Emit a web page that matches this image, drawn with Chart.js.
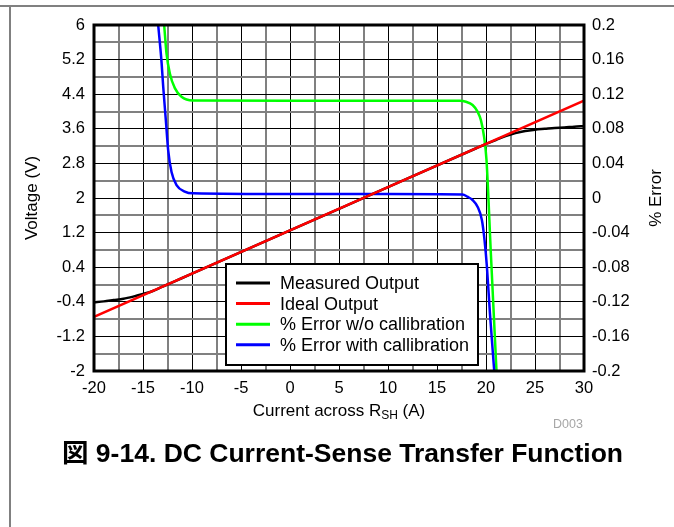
<!DOCTYPE html>
<html>
<head>
<meta charset="utf-8">
<script src="https://cdn.jsdelivr.net/npm/chart.js@4.4.1/dist/chart.umd.min.js"></script>
<style>
    body { margin: 0; background: #fff; }
    #wrap { position: relative; width: 674px; height: 527px; overflow: hidden; }
    #frameTop { position: absolute; left: 0; top: 5px; width: 674px; height: 2px; background: #808080; }
    #frameLeft { position: absolute; left: 9px; top: 5px; width: 2px; height: 522px; background: #808080; }
    #code { position: absolute; left: 553px; top: 417px; font: 12.5px "Liberation Sans", Arial, sans-serif; color: #a6a6a6; }
    #caption { position: absolute; left: 62px; top: 431px; line-height: 30px; white-space: nowrap;
        font: bold 26.5px "Liberation Sans", Arial, "Noto Sans CJK JP", sans-serif; color: #000; }
</style>
</head>
<body>
<div id="wrap">
    <canvas id="myChart" width="674" height="527"></canvas>
    <div id="frameTop"></div>
    <div id="frameLeft"></div>
    <div id="code">D003</div>
    <div id="caption">図 9-14. DC Current-Sense Transfer Function</div>
</div>
<script>
// current across R_SH (A) and readings
const measuredI = [-20, -19, -18, -17, -16, -15, -14, -13, -12, -10, 0, 10, 19, 20, 21, 22, 23, 24, 25, 26, 27, 28, 29, 30];
const measuredV = [-0.41, -0.39, -0.36, -0.33, -0.28, -0.22, -0.15, -0.05, 0.05, 0.25, 1.25, 2.25, 3.15, 3.25, 3.34, 3.43, 3.50, 3.55, 3.58, 3.60, 3.62, 3.63, 3.65, 3.66];

const idealI = [-20, 30];
const idealV = [-0.75, 4.25];

const errNoCalI = [-12.84, -12.6, -12.26, -11.75, -11.07, -9.9, 0, 10, 17.3, 17.95, 18.63, 19.14, 19.48, 19.8, 20.05, 20.5, 21.07];
const errNoCal = [0.2, 0.167, 0.144, 0.127, 0.117, 0.1128, 0.1125, 0.1125, 0.1124, 0.1113, 0.1075, 0.0998, 0.090, 0.071, 0.044, -0.065, -0.2];

const errCalI = [-13.45, -13.1, -12.94, -12.67, -12.43, -12.09, -11.58, -10.74, -9.9, 0, 10, 17.6, 18.1, 18.63, 19.14, 19.58, 19.85, 20.09, 20.4, 20.84];
const errCal = [0.2, 0.156, 0.129, 0.090, 0.055, 0.030, 0.015, 0.0075, 0.0054, 0.0045, 0.0045, 0.004, 0.0015, -0.0023, -0.010, -0.0254, -0.0486, -0.079, -0.133, -0.2];

const xTickLabels = ['-20', '-15', '-10', '-5', '0', '5', '10', '15', '20', '25', '30'];
const vTickLabels = ['-2', '-1.2', '-0.4', '0.4', '1.2', '2', '2.8', '3.6', '4.4', '5.2', '6'];
const errTickLabels = ['-0.2', '-0.16', '-0.12', '-0.08', '-0.04', '0', '0.04', '0.08', '0.12', '0.16', '0.2'];

const FONT = '"Liberation Sans", Arial, sans-serif';
const GRID_DARK = '#000000';
const GRID_LIGHT = '#808080';

function pts(xs, ys) {
    return xs.map((x, i) => ({ x: x, y: ys[i] }));
}

const frameAndLegend = {
    id: 'frameAndLegend',
    afterDatasetsDraw(chart) {
        const c = chart.ctx;
        const a = chart.chartArea;
        c.save();
        c.strokeStyle = '#000';
        c.lineWidth = 3;
        c.strokeRect(a.left, a.top, a.right - a.left, a.bottom - a.top);

        // legend box
        const lx = a.left + 132, ly = a.top + 239, lw = 252, lh = 101;
        c.fillStyle = '#fff';
        c.fillRect(lx, ly, lw, lh);
        c.lineWidth = 2;
        c.strokeRect(lx, ly, lw, lh);
        c.font = '18px ' + FONT;
        c.textBaseline = 'middle';
        c.textAlign = 'left';
        chart.data.datasets.forEach((ds, i) => {
            const y = ly + 19 + i * 20.6;
            c.strokeStyle = ds.borderColor;
            c.lineWidth = 3;
            c.beginPath();
            c.moveTo(lx + 10, y);
            c.lineTo(lx + 44, y);
            c.stroke();
            c.fillStyle = '#000';
            c.fillText(ds.label, lx + 54, y + 1);
        });
        c.restore();
    },
    afterDraw(chart) {
        const c = chart.ctx;
        const a = chart.chartArea;
        const midY = (a.top + a.bottom) / 2;
        c.save();
        c.fillStyle = '#000';
        c.font = '17px ' + FONT;
        c.textAlign = 'center';
        c.textBaseline = 'middle';

        c.save();
        c.translate(32, midY);
        c.rotate(-Math.PI / 2);
        c.fillText('Voltage (V)', 0, 0);
        c.restore();

        c.save();
        c.translate(656, midY);
        c.rotate(-Math.PI / 2);
        c.fillText('% Error', 0, 0);
        c.restore();

        // x title with subscript
        const p1 = 'Current across R', p2 = 'SH', p3 = ' (A)';
        c.font = '17px ' + FONT;
        const w1 = c.measureText(p1).width, w3 = c.measureText(p3).width;
        c.font = '12px ' + FONT;
        const w2 = c.measureText(p2).width;
        let x = (a.left + a.right) / 2 - (w1 + w2 + w3) / 2;
        const y = a.bottom + 40;
        c.textAlign = 'left';
        c.font = '17px ' + FONT;
        c.fillText(p1, x, y);
        x += w1;
        c.font = '12px ' + FONT;
        c.fillText(p2, x, y + 5);
        x += w2;
        c.font = '17px ' + FONT;
        c.fillText(p3, x, y);
        c.restore();
    }
};

const lineStyle = { pointRadius: 0, borderWidth: 2.5, fill: false, cubicInterpolationMode: 'monotone' };

new Chart(document.getElementById('myChart'), {
    type: 'line',
    data: {
        datasets: [
            Object.assign({ label: 'Measured Output', data: pts(measuredI, measuredV), borderColor: '#000000', yAxisID: 'y', order: 2 }, lineStyle),
            Object.assign({ label: 'Ideal Output', data: pts(idealI, idealV), borderColor: '#ff0000', yAxisID: 'y', order: 1 }, lineStyle),
            Object.assign({ label: '% Error w/o callibration', data: pts(errNoCalI, errNoCal), borderColor: '#00ff00', yAxisID: 'y1', order: 4 }, lineStyle),
            Object.assign({ label: '% Error with callibration', data: pts(errCalI, errCal), borderColor: '#0000ff', yAxisID: 'y1', order: 3 }, lineStyle)
        ]
    },
    options: {
        responsive: false,
        animation: false,
        layout: { padding: { left: 0, right: 0, top: 25, bottom: 126 } },
        plugins: { legend: { display: false }, tooltip: { enabled: false } },
        scales: {
            x: {
                type: 'linear',
                min: -20,
                max: 30,
                afterFit: s => { s.height = 30; },
                border: { display: false },
                grid: {
                    drawTicks: false,
                    color: ctx => ctx.index % 2 === 0 ? GRID_DARK : GRID_LIGHT,
                    lineWidth: ctx => ctx.index % 2 === 0 ? 1 : 2
                },
                ticks: {
                    stepSize: 2.5,
                    autoSkip: false,
                    maxRotation: 0,
                    padding: 8,
                    color: '#000',
                    font: { family: FONT, size: 16.5 },
                    callback: (v, i) => i % 2 === 0 ? xTickLabels[i / 2] : ''
                }
            },
            y: {
                position: 'left',
                min: -2,
                max: 6,
                afterFit: s => { s.width = 94; },
                border: { display: false },
                grid: {
                    drawTicks: false,
                    color: ctx => ctx.index % 2 === 0 ? GRID_DARK : GRID_LIGHT,
                    lineWidth: ctx => ctx.index % 2 === 0 ? 1 : 2
                },
                ticks: {
                    stepSize: 0.4,
                    autoSkip: false,
                    padding: 9,
                    color: '#000',
                    font: { family: FONT, size: 16.5 },
                    callback: (v, i) => i % 2 === 0 ? vTickLabels[i / 2] : ''
                }
            },
            y1: {
                position: 'right',
                min: -0.2,
                max: 0.2,
                afterFit: s => { s.width = 90; },
                border: { display: false },
                grid: { drawOnChartArea: false, drawTicks: false },
                ticks: {
                    stepSize: 0.04,
                    autoSkip: false,
                    padding: 8,
                    color: '#000',
                    font: { family: FONT, size: 16.5 },
                    callback: (v, i) => errTickLabels[i]
                }
            }
        }
    },
    plugins: [frameAndLegend]
});
</script>
</body>
</html>
